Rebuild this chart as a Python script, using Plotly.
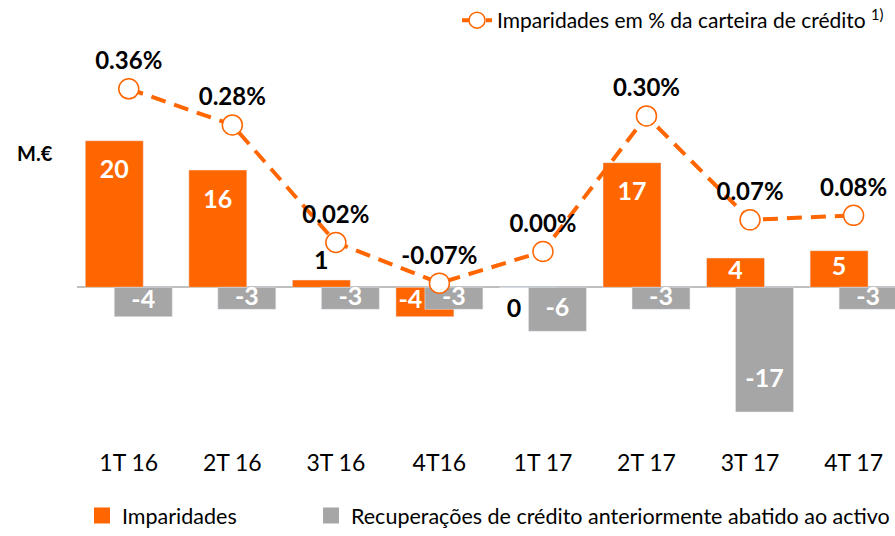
import plotly.graph_objects as go

categories = ["1T 16", "2T 16", "3T 16", "4T16", "1T 17", "2T 17", "3T 17", "4T 17"]
imparidades = [20, 16, 1, -4, 0, 17, 4, 5]
recuperacoes = [-4, -3, -3, -3, -6, -3, -17, -3]
pct_carteira = [0.36, 0.28, 0.02, -0.07, 0.00, 0.30, 0.07, 0.08]

ORANGE = "#FF6600"
GREY = "#A6A6A6"
FONT = "Lato"

x = list(range(len(categories)))
BW = 0.56
SHIFT = 0.14


def label_pos(v):
    """Value label inside its bar (near the end for long bars,
    centred for short ones) or just outside for tiny bars."""
    if abs(v) >= 8:
        return v - (4.3 if v > 0 else -4.3), "white"
    if abs(v) >= 3:
        return v / 2, "white"
    if v > 0:
        return v + 2.3, "black"
    return v - 3.2, "black"


fig = go.Figure()

fig.add_trace(go.Bar(
    x=x, y=imparidades, name="Imparidades", marker_color=ORANGE,
    width=BW, offset=-SHIFT - BW / 2, showlegend=False, hoverinfo="skip",
))
fig.add_trace(go.Bar(
    x=x, y=recuperacoes, name="Recuperações de crédito anteriormente abatido ao activo",
    marker_color=GREY, width=BW, offset=SHIFT - BW / 2, showlegend=False, hoverinfo="skip",
))

# legend entries for the bars, with larger square swatches
fig.add_trace(go.Scatter(
    x=[None], y=[None], mode="markers", name="Imparidades",
    marker=dict(symbol="square", size=18, color=ORANGE), legend="legend", hoverinfo="skip",
))
fig.add_trace(go.Scatter(
    x=[None], y=[None], mode="markers",
    name="Recuperações de crédito anteriormente abatido ao activo",
    marker=dict(symbol="square", size=18, color=GREY), legend="legend3", hoverinfo="skip",
))

# value labels of the bars
pos_o = [label_pos(v) for v in imparidades]
# a non-positive orange bar is partly hidden by the grey bar: centre its label on the visible part
xo = [i - (SHIFT if v > 0 else 2 * SHIFT) for i, v in zip(x, imparidades)]
fig.add_trace(go.Scatter(
    x=xo, y=[p[0] for p in pos_o], mode="text",
    text=[str(v) for v in imparidades],
    textfont=dict(family=FONT, size=25, weight="bold", color=[p[1] for p in pos_o]),
    showlegend=False, hoverinfo="skip",
))
pos_g = [label_pos(v) for v in recuperacoes]
fig.add_trace(go.Scatter(
    x=[i + SHIFT for i in x], y=[p[0] for p in pos_g], mode="text",
    text=[str(v) for v in recuperacoes],
    textfont=dict(family=FONT, size=25, weight="bold", color=[p[1] for p in pos_g]),
    showlegend=False, hoverinfo="skip",
))

fig.add_trace(go.Scatter(
    x=x, y=pct_carteira, yaxis="y2", mode="lines+markers+text",
    name="Imparidades em % da carteira de crédito <sup>1)</sup>",
    line=dict(color=ORANGE, width=4, dash="15px,9px"),
    marker=dict(symbol="circle", size=20, color="white", line=dict(color=ORANGE, width=1.5)),
    text=[f"{v:.2f}%" for v in pct_carteira], textposition="top center",
    textfont=dict(family=FONT, size=24, weight="bold", color="black"),
    legend="legend2", hoverinfo="skip", cliponaxis=False,
))

fig.update_layout(
    width=895, height=536,
    margin=dict(l=77, r=0, t=40, b=106),
    plot_bgcolor="white", paper_bgcolor="white",
    barmode="overlay",
    font=dict(family=FONT, size=21, color="black"),
    xaxis=dict(
        type="linear", range=[-0.5, 7.4], tickvals=x, ticktext=categories,
        showgrid=False, zeroline=False, showline=False, ticks="",
        tickfont=dict(size=23), ticklabelstandoff=17,
    ),
    yaxis=dict(
        type="linear", range=[-19.46, 33.6], showgrid=False, showticklabels=False,
        zeroline=True, zerolinecolor="#BFBFBF", zerolinewidth=2,
    ),
    yaxis2=dict(
        type="linear", range=[-0.395, 0.4658], overlaying="y", side="right",
        showgrid=False, showticklabels=False, zeroline=False,
    ),
    legend=dict(
        orientation="h", x=5 / 818, y=0.0, xref="paper", yref="container",
        xanchor="left", yanchor="bottom",
        font=dict(size=21.5), bgcolor="rgba(0,0,0,0)",
    ),
    legend3=dict(
        orientation="h", x=(316 - 77) / 818, y=0.0, xref="paper", yref="container",
        xanchor="left", yanchor="bottom",
        font=dict(size=21.5), bgcolor="rgba(0,0,0,0)",
    ),
    legend2=dict(
        orientation="h", x=457 / 895, y=1.0, xref="container", yref="container",
        xanchor="left", yanchor="top", font=dict(size=21), bgcolor="rgba(0,0,0,0)",
    ),
    annotations=[dict(
        text="<b>M.€</b>", x=(35 - 77) / 818, y=(430 - 152) / 390,
        xref="paper", yref="paper", xanchor="center", yanchor="middle",
        showarrow=False, font=dict(size=20),
    )],
)

fig.write_html("out.html", config={"displayModeBar": False},
               post_script="document.body.style.margin='0px';")
